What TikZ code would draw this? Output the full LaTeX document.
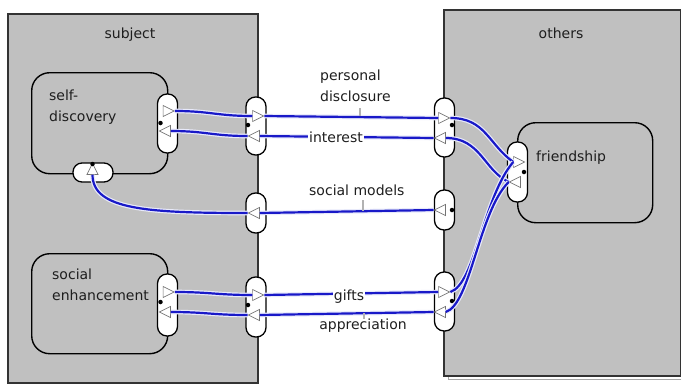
\documentclass[tikz,border=0pt]{standalone}
\usepackage{fontspec}
\setmainfont{DejaVu Sans}
\usetikzlibrary{shapes.geometric}
\definecolor{panel}{RGB}{192,192,192}
\definecolor{flowblue}{RGB}{25,25,200}
\definecolor{halo}{RGB}{232,234,250}
\definecolor{ink}{RGB}{30,30,30}
\begin{document}
\begin{tikzpicture}[x=1pt, y=-1pt,
  every node/.style={font=\fontsize{14}{21}\selectfont, text=ink},
  frame/.style={draw=black!80, line width=1.6pt, fill=panel, anchor=north west, inner sep=0pt},
  part/.style={draw=black, line width=1.4pt, fill=panel, rounded corners=18pt, anchor=north west, inner sep=0pt},
  vport/.style={draw=black, line width=1.3pt, fill=white, rounded corners=9.5pt, minimum width=20pt, inner sep=0pt},
  hport/.style={draw=black, line width=1.3pt, fill=white, rounded corners=9pt, minimum width=40pt, minimum height=19pt, inner sep=0pt},
  tri/.style={isosceles triangle, isosceles triangle apex angle=55, isosceles triangle stretches,
    minimum width=11pt, minimum height=11pt, draw=black!55, fill=white, line width=0.7pt, inner sep=0pt},
  tright/.style={tri},
  tleft/.style={tri, shape border rotate=180},
  tup/.style={tri, shape border rotate=90},
  dot/.style={circle, fill=black, inner sep=0pt, minimum size=4.5pt},
  flow/.style={draw=halo, line width=1.2pt, double=flowblue, double distance=2.2pt},
  tick/.style={draw=black!30, line width=1.2pt}]
  \useasboundingbox (0,0) rectangle (681,384);
  \draw[black!35, line width=1pt] (448,375) -- (448,379) -- (681,379);
  \node[frame, minimum width=250pt, minimum height=369pt] (subject) at (7,13) {};
  \node[frame, minimum width=237pt, minimum height=366pt] (others) at (443,9) {};
  \node[anchor=base] (subjtitle) at (130,38) {subject};
  \node[anchor=base] (othtitle) at (561,38) {others};

  \node[part, minimum width=136pt, minimum height=101pt] (selfdisc) at (31,72) {};
  \node[part, minimum width=136pt, minimum height=100pt] (socenh) at (31,253) {};
  \node[part, minimum width=135pt, minimum height=100pt] (friend) at (517,122) {};
  \node[anchor=north west, align=left, inner sep=0pt] (sdtext) at (49,89.5) {self-\\discovery};
  \node[anchor=north west, align=left, inner sep=0pt] (setext) at (52,268.5) {social\\enhancement};
  \node[anchor=base west, inner sep=0pt] (frtext) at (536,161) {friendship};

  \node[vport, minimum height=59pt] (sdR) at (167.5,123.5) {};
  \node[hport] (sdB) at (93,172.5) {};
  \node[vport, minimum height=62pt] (seR) at (167.5,305) {};
  \node[vport, minimum height=60pt] (frL) at (517.5,172) {};
  \node[vport, minimum height=58pt] (sbP1) at (256,126) {};
  \node[vport, minimum height=40pt] (sbP2) at (256,213) {};
  \node[vport, minimum height=60pt] (sbP3) at (256,307) {};
  \node[vport, minimum height=59pt] (obP1) at (444.5,127.5) {};
  \node[vport, minimum height=40pt] (obP2) at (444.5,210) {};
  \node[vport, minimum height=59pt] (obP3) at (444.5,301.5) {};

  \node[tright] (sdOut) at (166.5,111) {};
  \node[tleft] (sdIn) at (167,131) {};
  \node[tup] (sdUp) at (92.5,171) {};
  \node[tright] (seOut) at (166.5,292) {};
  \node[tleft] (seIn) at (167,312) {};
  \node[tright] (sbOut1) at (256,116) {};
  \node[tleft] (sbIn1) at (256,136) {};
  \node[tleft] (sbIn2) at (256,213) {};
  \node[tright] (sbOut3) at (256,295) {};
  \node[tleft] (sbIn3) at (256,315) {};
  \node[tright] (obOut1) at (442,118) {};
  \node[tleft] (obIn1) at (442,138) {};
  \node[tleft] (obIn2) at (442,210) {};
  \node[tright] (obOut3) at (442,292) {};
  \node[tleft] (obIn3) at (442,312) {};
  \node[tright] (frIn) at (517,162) {};
  \node[tleft] (frOut) at (517,182) {};

  \node[dot] (d1) at (160.5,123) {};
  \node[dot] (d2) at (92.5,164) {};
  \node[dot] (d3) at (160.5,302) {};
  \node[dot] (d4) at (248,125) {};
  \node[dot] (d5) at (248,305) {};
  \node[dot] (d6) at (452,125) {};
  \node[dot] (d7) at (452,210) {};
  \node[dot] (d8) at (452,301) {};
  \node[dot] (d9) at (524,172) {};

  \draw[flow] (sdOut.apex) .. controls +(35,0) and +(-35,0) .. (sbOut1.lower side);
  \draw[flow] (sbOut1.apex) -- (obOut1.lower side);
  \draw[flow] (obOut1.apex) .. controls +(35,0) and +(-25,-18) .. (frIn.lower side);
  \draw[flow] (frOut.apex) .. controls +(-25,-12) and +(35,0) .. (obIn1.lower side);
  \draw[flow] (obIn1.apex) -- (sbIn1.lower side);
  \draw[flow] (sbIn1.apex) .. controls +(-35,0) and +(35,0) .. (sdIn.lower side);
  \draw[flow] (obIn2.apex) -- (sbIn2.lower side);
  \draw[flow] (sbIn2.apex) .. controls +(-100,0) and +(0,35) .. (sdUp.lower side);
  \draw[flow] (seOut.apex) .. controls +(35,0) and +(-35,0) .. (sbOut3.lower side);
  \draw[flow] (sbOut3.apex) -- (obOut3.lower side);
  \draw[flow] (obOut3.apex) .. controls +(25,-8) and +(-30,35) .. (frIn.lower side);
  \draw[flow] (frOut.apex) .. controls +(-30,30) and +(25,-8) .. (obIn3.lower side);
  \draw[flow] (obIn3.apex) -- (sbIn3.lower side);
  \draw[flow] (sbIn3.apex) .. controls +(-35,0) and +(35,0) .. (seIn.lower side);

  \node[anchor=north west, align=left, inner sep=0pt] (lpd) at (320,69.5) {personal\\disclosure};
  \draw[tick] (360,108) -- (360,116);
  \node[fill=white, inner sep=1pt] (lint) at (336,137) {interest};
  \node[anchor=base west, inner sep=0pt] (lsm) at (309,195) {social models};
  \draw[tick] (363,200) -- (363,211);
  \node[anchor=base, fill=white, inner sep=1pt] (lgf) at (349,300) {gifts};
  \node[anchor=base, inner sep=0pt] (lap) at (363,329) {appreciation};
  \draw[tick] (364,313) -- (364,319);
\end{tikzpicture}
\end{document}
